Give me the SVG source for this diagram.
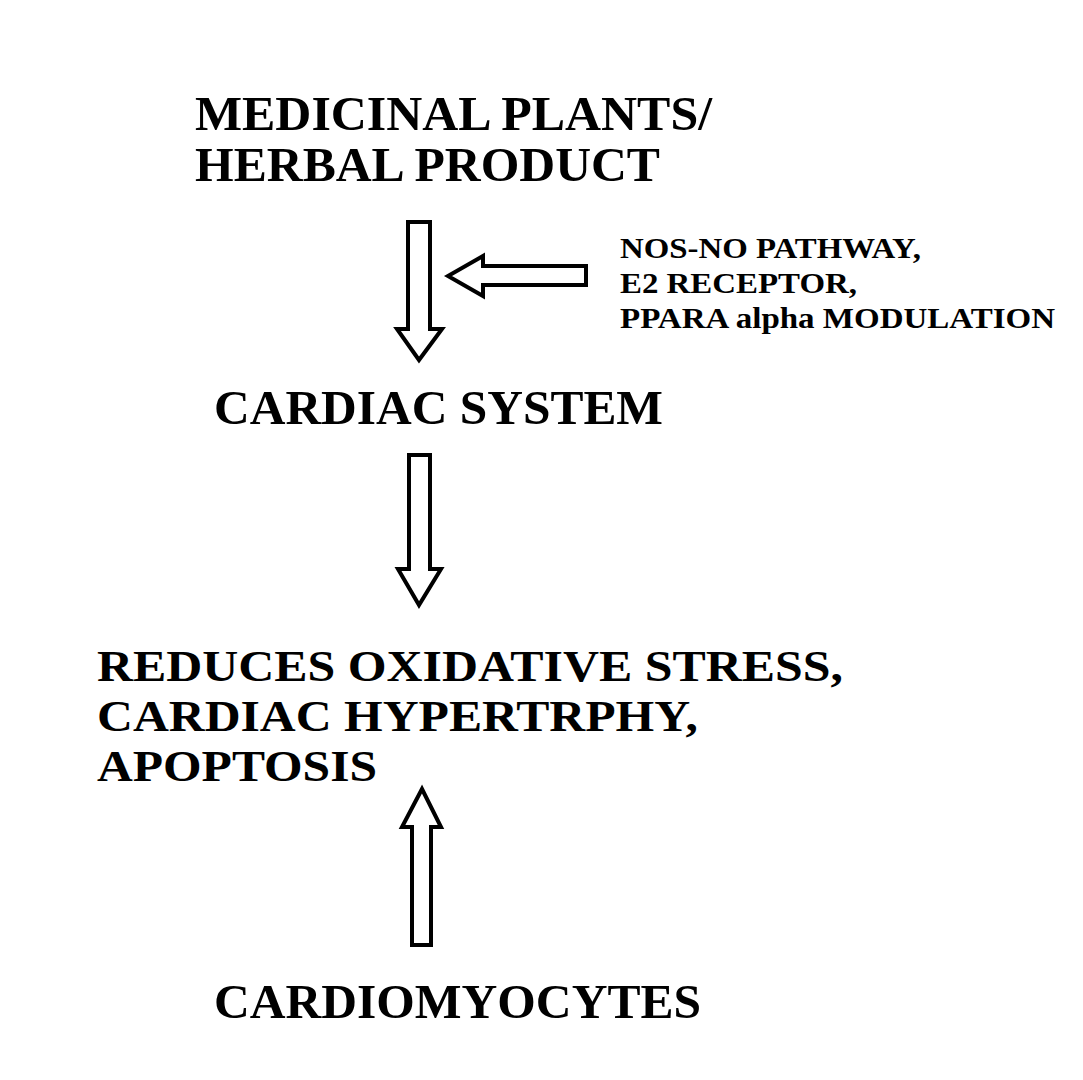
<svg xmlns="http://www.w3.org/2000/svg" width="1083" height="1080" viewBox="0 0 1083 1080">
<style>
.t{font-family:"Liberation Serif","Times New Roman",serif;font-weight:bold;fill:#000}
.big{font-size:49px}
.sm{font-size:30px}
.res{font-size:45px}
.arr{fill:#fff;stroke:#000;stroke-width:4;stroke-linejoin:miter}
</style>
<rect width="1083" height="1080" fill="#fff"/>
<g id="node-plants">
<text class="t big" x="195" y="130" textLength="517" lengthAdjust="spacingAndGlyphs">MEDICINAL PLANTS/</text>
<text class="t big" x="195" y="181" textLength="465" lengthAdjust="spacingAndGlyphs">HERBAL PRODUCT</text>
</g>
<g id="node-pathways">
<text class="t sm" x="620" y="258" textLength="301" lengthAdjust="spacingAndGlyphs">NOS-NO PATHWAY,</text>
<text class="t sm" x="620" y="293" textLength="237" lengthAdjust="spacingAndGlyphs">E2 RECEPTOR,</text>
<text class="t sm" x="620" y="328" textLength="435" lengthAdjust="spacingAndGlyphs">PPARA alpha MODULATION</text>
</g>
<g id="node-cardiac">
<text class="t big" x="214" y="424" textLength="449" lengthAdjust="spacingAndGlyphs">CARDIAC SYSTEM</text>
</g>
<g id="node-reduces">
<text class="t res" x="97" y="681" textLength="746" lengthAdjust="spacingAndGlyphs">REDUCES OXIDATIVE STRESS,</text>
<text class="t res" x="97" y="731" textLength="601" lengthAdjust="spacingAndGlyphs">CARDIAC HYPERTRPHY,</text>
<text class="t res" x="97" y="781" textLength="280" lengthAdjust="spacingAndGlyphs">APOPTOSIS</text>
</g>
<g id="node-cardiomyocytes">
<text class="t big" x="214" y="1018" textLength="487" lengthAdjust="spacingAndGlyphs">CARDIOMYOCYTES</text>
</g>
<g id="connectors">
<polygon class="arr" points="408,222 430,222 430,329 442,329 419,360 397,329 408,329"/>
<polygon class="arr" points="586,266 586,285 483,285 483,296 448,276 483,256 483,266"/>
<polygon class="arr" points="409,455 430,455 430,569 441,569 419,605 398,569 409,569"/>
<polygon class="arr" points="412,945 431,945 431,827 441,827 422,789 402,827 412,827"/>
</g>
</svg>
